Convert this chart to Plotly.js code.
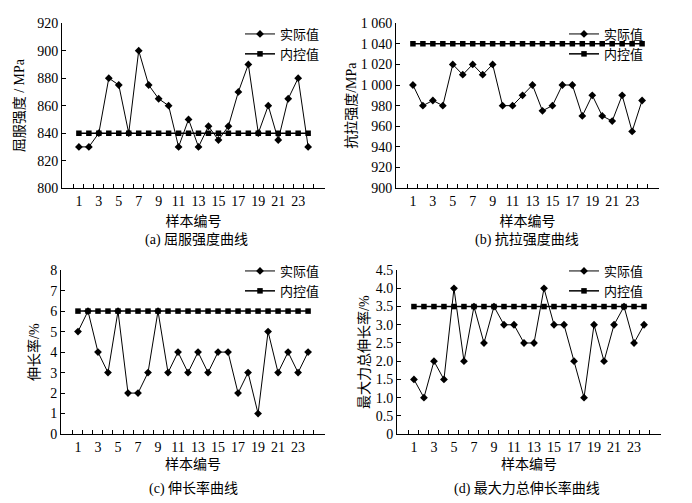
<!DOCTYPE html>
<html>
<head>
<meta charset="utf-8">
<script src="https://cdn.plot.ly/plotly-3.0.1.min.js"></script>
<style>
  html, body { margin: 0; padding: 0; background: #fff; }
  #chart { width: 692px; height: 503px; }
</style>
</head>
<body>
<div id="chart"></div>
<script>
// sample numbers 1..24
const samples = ['1','2','3','4','5','6','7','8','9','10','11','12','13','14','15','16','17','18','19','20','21','22','23','24'];
const sampleLabels = ['1','','3','','5','','7','','9','','11','','13','','15','','17','','19','','21','','23',''];

// (a) yield strength, MPa
const yieldActual = [830, 830, 840, 880, 875, 840, 900, 875, 865, 860, 830, 850, 830, 845, 835, 845, 870, 890, 840, 860, 835, 865, 880, 830];
const yieldControl = [840, 840, 840, 840, 840, 840, 840, 840, 840, 840, 840, 840, 840, 840, 840, 840, 840, 840, 840, 840, 840, 840, 840, 840];

// (b) tensile strength, MPa
const tensileActual = [1000, 980, 985, 980, 1020, 1010, 1020, 1010, 1020, 980, 980, 990, 1000, 975, 980, 1000, 1000, 970, 990, 970, 965, 990, 955, 985];
const tensileControl = [1040, 1040, 1040, 1040, 1040, 1040, 1040, 1040, 1040, 1040, 1040, 1040, 1040, 1040, 1040, 1040, 1040, 1040, 1040, 1040, 1040, 1040, 1040, 1040];

// (c) elongation, %
const elongActual = [5, 6, 4, 3, 6, 2, 2, 3, 6, 3, 4, 3, 4, 3, 4, 4, 2, 3, 1, 5, 3, 4, 3, 4];
const elongControl = [6, 6, 6, 6, 6, 6, 6, 6, 6, 6, 6, 6, 6, 6, 6, 6, 6, 6, 6, 6, 6, 6, 6, 6];

// (d) total elongation at max force, %
const agtActual = [1.5, 1.0, 2.0, 1.5, 4.0, 2.0, 3.5, 2.5, 3.5, 3.0, 3.0, 2.5, 2.5, 4.0, 3.0, 3.0, 2.0, 1.0, 3.0, 2.0, 3.0, 3.5, 2.5, 3.0];
const agtControl = [3.5, 3.5, 3.5, 3.5, 3.5, 3.5, 3.5, 3.5, 3.5, 3.5, 3.5, 3.5, 3.5, 3.5, 3.5, 3.5, 3.5, 3.5, 3.5, 3.5, 3.5, 3.5, 3.5, 3.5];
const agtTickVals = [0, 0.5, 1, 1.5, 2, 2.5, 3, 3.5, 4, 4.5];
const agtTickText = ['0', '0.5', '1.0', '1.5', '2.0', '2.5', '3.0', '3.5', '4.0', '4.5'];

const FONT = 'Liberation Serif, Noto Sans CJK SC, serif';

function actualTrace(y, xa, ya, legend) {
  return {
    type: 'scatter', mode: 'lines+markers', name: '实际值',
    x: samples, y: y,
    xaxis: xa, yaxis: ya, legend: legend,
    line: { color: '#000', width: 1 },
    marker: { symbol: 'diamond', size: 6, color: '#000' }
  };
}
function controlTrace(y, xa, ya, legend) {
  return {
    type: 'scatter', mode: 'lines+markers', name: '内控值',
    x: samples, y: y,
    xaxis: xa, yaxis: ya, legend: legend,
    line: { color: '#000', width: 1.5 },
    marker: { symbol: 'square', size: 5.5, color: '#000' }
  };
}

const data = [
  actualTrace(yieldActual, 'x', 'y', 'legend'), controlTrace(yieldControl, 'x', 'y', 'legend'),
  actualTrace(tensileActual, 'x2', 'y2', 'legend2'), controlTrace(tensileControl, 'x2', 'y2', 'legend2'),
  actualTrace(elongActual, 'x3', 'y3', 'legend3'), controlTrace(elongControl, 'x3', 'y3', 'legend3'),
  actualTrace(agtActual, 'x4', 'y4', 'legend4'), controlTrace(agtControl, 'x4', 'y4', 'legend4')
];

function xAxis(domain, anchor, standoff) {
  return {
    domain: domain, anchor: anchor, type: 'category',
    tickmode: 'array', tickvals: samples, ticktext: sampleLabels, tickangle: 0,
    tickson: 'boundaries', ticks: 'inside', ticklen: 4, tickcolor: '#000',
    showline: true, linecolor: '#000', linewidth: 1,
    showgrid: false, zeroline: false,
    tickfont: { family: FONT, size: 14, color: '#000' },
    title: { text: '样本编号', font: { family: FONT, size: 14, color: '#000' }, standoff: standoff }
  };
}
function yAxis(domain, anchor, range, dtick, title, standoff) {
  return {
    domain: domain, anchor: anchor, range: range, dtick: dtick,
    ticks: 'inside', ticklen: 4, tickcolor: '#000',
    showline: true, linecolor: '#000', linewidth: 1,
    showgrid: false, zeroline: false,
    tickfont: { family: FONT, size: 14, color: '#000' },
    title: { text: title, font: { family: FONT, size: 14, color: '#000' }, standoff: standoff }
  };
}

const rowTop = [0.626, 0.954];
const rowBottom = [0.137, 0.463];

const legendBase = {
  bgcolor: 'rgba(0,0,0,0)', borderwidth: 0,
  font: { family: FONT, size: 13, color: '#000' },
  xanchor: 'left', yanchor: 'top', tracegroupgap: 0, itemwidth: 30
};

const layout = {
  width: 692, height: 503, autosize: false,
  margin: { l: 0, r: 0, t: 0, b: 0 },
  paper_bgcolor: '#fff', plot_bgcolor: '#fff',
  separators: '. ',
  showlegend: true,
  xaxis: xAxis([0.0896, 0.4697], 'y', 8),
  yaxis: yAxis(rowTop, 'x', [800, 920], 20, '屈服强度 / MPa', 9),
  xaxis2: xAxis([0.5723, 0.9523], 'y2', 8),
  yaxis2: Object.assign(yAxis(rowTop, 'x2', [900, 1060], 20, '抗拉强度/MPa', 0), { separatethousands: true }),
  xaxis3: xAxis([0.0882, 0.4697], 'y3', 5),
  yaxis3: yAxis(rowBottom, 'x3', [0, 8], 1, '伸长率/%', 7),
  xaxis4: xAxis([0.5737, 0.9552], 'y4', 5),
  yaxis4: Object.assign(yAxis(rowBottom, 'x4', [0, 4.5], 0.5, '最大力总伸长率/%', 2),
    { tickmode: 'array', tickvals: agtTickVals, ticktext: agtTickText }),
  legend: Object.assign({}, legendBase, { x: 240 / 692, y: 1 - 19 / 503 }),
  legend2: Object.assign({}, legendBase, { x: 564 / 692, y: 1 - 19 / 503 }),
  legend3: Object.assign({}, legendBase, { x: 240 / 692, y: 1 - 256 / 503 }),
  legend4: Object.assign({}, legendBase, { x: 564 / 692, y: 1 - 256 / 503 }),
  annotations: [
    { text: '(a) 屈服强度曲线', x: 196 / 692, y: 1 - 240 / 503 },
    { text: '(b) 抗拉强度曲线', x: 527 / 692, y: 1 - 240 / 503 },
    { text: '(c) 伸长率曲线', x: 193 / 692, y: 1 - 488 / 503 },
    { text: '(d) 最大力总伸长率曲线', x: 527 / 692, y: 1 - 488 / 503 }
  ].map(a => Object.assign(a, {
    xref: 'paper', yref: 'paper', xanchor: 'center', yanchor: 'middle', showarrow: false,
    font: { family: FONT, size: 14, color: '#000' }
  }))
};

Plotly.newPlot('chart', data, layout, { displayModeBar: false, staticPlot: true });
</script>
</body>
</html>
